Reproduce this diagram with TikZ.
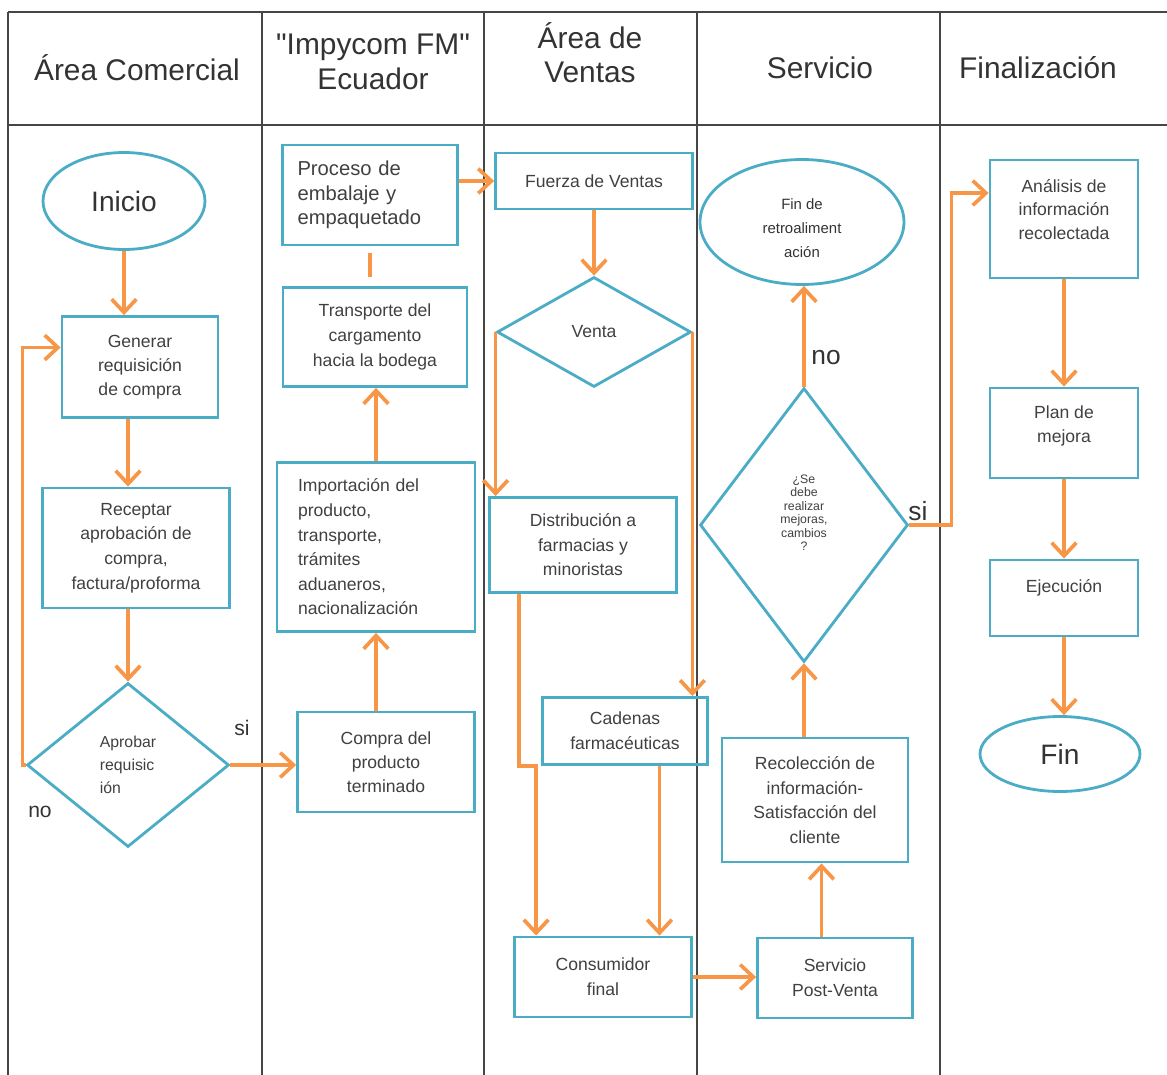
\documentclass[tikz,border=0pt]{standalone}
\usepackage{fontspec}
\setmainfont{Liberation Sans}
\usetikzlibrary{shapes.geometric,arrows.meta,calc}
\definecolor{caja}{RGB}{75,172,198}
\definecolor{flecha}{RGB}{247,150,70}
\definecolor{carril}{RGB}{70,70,70}

\begin{document}
\begin{tikzpicture}[x=0.02cm, y=-0.02cm]
    % Estilos para los nodos
    \tikzstyle{lane}=[draw=carril, line width=1.3pt]
    \tikzstyle{header}=[text=black!80, font=\fontsize{17}{19.5}\selectfont, align=center]
    \tikzstyle{box}=[rectangle, draw=caja, line width=1.6pt, text=black!75, font=\fontsize{10}{13.5}\selectfont, align=center]
    \tikzstyle{decision}=[diamond, draw=caja, line width=1.6pt, text=black!75, align=center, inner sep=0pt]
    \tikzstyle{terminal}=[ellipse, draw=caja, line width=1.6pt, text=black!80, align=center, inner sep=0pt]
    \tikzstyle{arrow}=[-{Straight Barb[length=7.5pt,width=14pt]}, line width=2.1pt, draw=flecha]
    \tikzstyle{rama}=[text=black!80, font=\fontsize{12}{14}\selectfont]
    \useasboundingbox (0,0) rectangle (1167,1075);

    % Carriles
    \draw[lane] (8,12) -- (1167,12);
    \draw[lane] (8,125) -- (1167,125);
    \foreach \x in {8,262,484,697,940}
        \draw[lane] (\x,12) -- (\x,1075);

    \node[header] (hcom) at (137,68) {Área Comercial};
    \node[header] (himp) at (373,62) {\textquotedbl Impycom FM\textquotedbl\\Ecuador};
    \node[header] (hven) at (590,53) {Área de\\Ventas};
    \node[header] (hser) at (820,68) {Servicio};
    \node[header] (hfin) at (1038,68) {Finalización};

    % Área Comercial
    \node[terminal, minimum width=3.24cm, minimum height=1.94cm, font=\fontsize{16}{19}\selectfont] (inicio) at (124,201) {Inicio};
    \node[box, minimum width=3.12cm, minimum height=2.02cm] (generar) at (140,367) {Generar\\requisición\\de compra};
    \node[box, minimum width=3.74cm, minimum height=2.4cm, font=\fontsize{10}{14}\selectfont] (receptar) at (136,548) {Receptar\\aprobación de\\compra,\\factura/proforma};
    \node[decision, minimum width=4.04cm, minimum height=3.28cm, align=left, font=\fontsize{9}{13}\selectfont] (aprobar) at (128,765) {Aprobar\\requisic\\ión};
    \node[rama] (nocom) at (40,812) {no};
    \node[rama] (sicom) at (242,728) {si};

    \draw[arrow] (inicio.south) -- (generar.north -| inicio.south);
    \draw[arrow] (generar.south -| aprobar.north) -- (receptar.north -| aprobar.north);
    \draw[arrow] (receptar.south -| aprobar.north) -- (aprobar.north);
    \draw[arrow] (aprobar.west) -- ++(-3,0) |- ([yshift=0.39cm]generar.west);

    % "Impycom FM" Ecuador
    \node[box, minimum width=3.54cm, minimum height=2cm] (compra) at (386,762) {Compra del\\producto\\terminado};
    \node[box, text width=3.12cm, inner xsep=0.42cm, minimum height=3.38cm, align=left, font=\fontsize{10}{14}\selectfont] (importacion) at (376,547) {Importación del\\producto,\\transporte,\\trámites\\aduaneros,\\nacionalización};
    \node[box, minimum width=3.68cm, minimum height=1.98cm, font=\fontsize{10}{14}\selectfont] (transporte) at (375,337) {Transporte del\\cargamento\\hacia la bodega};
    \node[box, text width=2.9cm, inner xsep=0.3cm, minimum height=2cm, align=left, font=\fontsize{11.5}{14}\selectfont] (proceso) at (370,195) {Proceso de\\embalaje y\\empaquetado};

    \draw[arrow] (aprobar.east) -- (aprobar.east -| compra.west);
    \draw[arrow] (compra.north -| importacion.south) -- (importacion.south);
    \draw[arrow] (importacion.north) -- (importacion.north |- transporte.south);
    \draw[draw=flecha, line width=2.1pt, shorten <=5pt, shorten >=4pt] (transporte.north -| proceso.south) -- (proceso.south);

    % Área de Ventas
    \node[box, minimum width=3.94cm, minimum height=1.12cm] (fuerza) at (594,181) {Fuerza de Ventas};
    \node[decision, minimum width=3.88cm, minimum height=2.2cm, font=\fontsize{10}{13}\selectfont] (venta) at (594,332) {Venta};
    \node[box, minimum width=3.74cm, minimum height=1.9cm, font=\fontsize{10}{14}\selectfont] (distribucion) at (583,545) {Distribución a\\farmacias y\\minoristas};
    \node[box, minimum width=3.3cm, minimum height=1.34cm, font=\fontsize{10}{14}\selectfont] (cadenas) at (625,731) {Cadenas\\farmacéuticas};
    \node[box, minimum width=3.54cm, minimum height=1.6cm, font=\fontsize{10}{14}\selectfont] (consumidor) at (603,977) {Consumidor\\final};

    \draw[arrow] (proceso.east |- fuerza.west) -- (fuerza.west);
    \draw[arrow] (fuerza.south) -- (venta.north);
    \draw[arrow] (venta.west) -- (venta.west |- distribucion.north);
    \draw[arrow] (venta.east) -- (venta.east |- cadenas.north);
    \draw[arrow] ([xshift=0.62cm]distribucion.south west) -- ++(0,172) -- ++(17,0) coordinate (salto) -- (salto |- consumidor.north);
    \coordinate (cadsal) at ([xshift=0.69cm]cadenas.south);
    \draw[arrow] (cadsal) -- (cadsal |- consumidor.north);

    % Servicio
    \node[box, minimum width=3.1cm, minimum height=1.6cm, font=\fontsize{10}{14}\selectfont] (postventa) at (835,978) {Servicio\\Post-Venta};
    \node[box, minimum width=3.72cm, minimum height=2.48cm, font=\fontsize{10}{14}\selectfont] (recoleccion) at (815,800) {Recolección de\\información-\\Satisfacción del\\cliente};
    \node[decision, minimum width=4.16cm, minimum height=5.48cm, text depth=14pt, font=\fontsize{7}{7.6}\selectfont] (mejoras) at (804,525) {¿Se\\debe\\realizar\\mejoras,\\cambios\\?};
    \node[terminal, minimum width=4.08cm, minimum height=2.5cm, text height=40pt, font=\fontsize{8.5}{13.5}\selectfont] (finretro) at (802,222) {Fin de\\retroaliment\\ación};
    \node[rama, font=\fontsize{15}{17}\selectfont] (noser) at (826,358) {no};
    \node[rama, font=\fontsize{15}{17}\selectfont] (siser) at (918,511) {si};

    \draw[arrow] (consumidor.east) -- (consumidor.east -| postventa.west);
    \coordinate (possal) at ([xshift=-0.27cm]postventa.north);
    \draw[arrow] (possal) -- (possal |- recoleccion.south);
    \draw[arrow] (recoleccion.north -| mejoras.south) -- (mejoras.south);
    \draw[arrow] (mejoras.north) -- (mejoras.north |- finretro.south);

    % Finalización
    \node[box, minimum width=2.96cm, minimum height=2.36cm, text depth=11pt] (analisis) at (1064,219) {Análisis de\\información\\recolectada};
    \node[box, minimum width=2.96cm, minimum height=1.8cm, text depth=10pt] (plan) at (1064,433) {Plan de\\mejora};
    \node[box, minimum width=2.96cm, minimum height=1.52cm, text depth=14pt] (ejecucion) at (1064,598) {Ejecución};
    \node[terminal, minimum width=3.2cm, minimum height=1.5cm, font=\fontsize{16}{19}\selectfont] (fin) at (1060,754) {Fin};

    \draw[arrow] (mejoras.east) -- ++(42,0) |- ([yshift=0.52cm]analisis.west);
    \draw[arrow] (analisis.south) -- (plan.north);
    \draw[arrow] (plan.south) -- (ejecucion.north);
    \draw[arrow] (ejecucion.south) -- (ejecucion.south |- fin.north);
\end{tikzpicture}
\end{document}
